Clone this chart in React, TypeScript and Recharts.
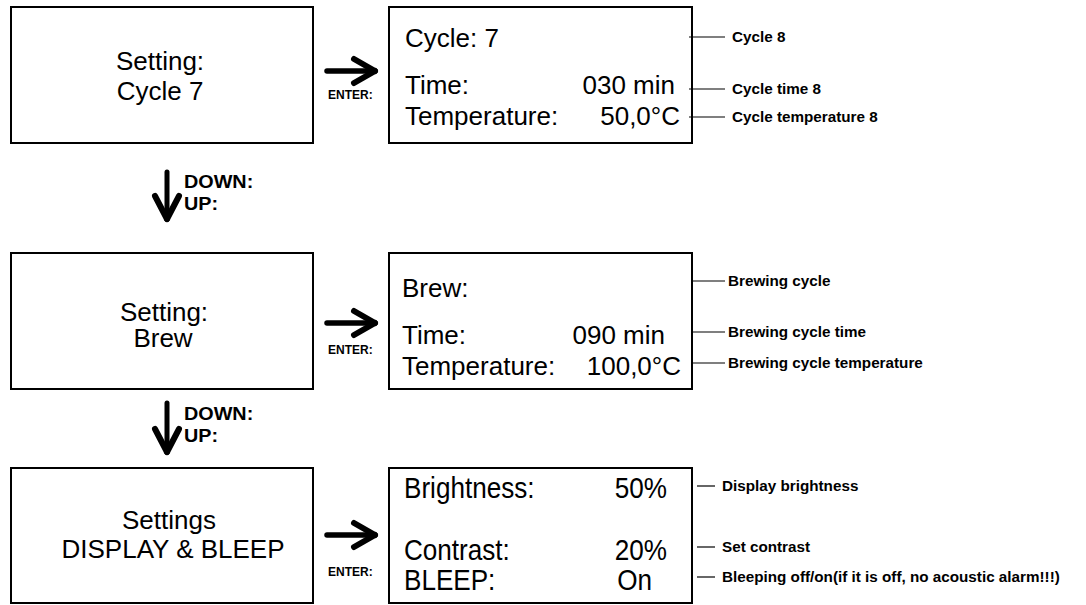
import { ScatterChart, Scatter, XAxis, YAxis, ReferenceArea, ReferenceLine } from "recharts";

// menu content
const menuTitles = [
  ["Setting:", "Cycle 7"],
  ["Setting:", "Brew"],
  ["Settings", "DISPLAY & BLEEP"],
];
const screenLabels = [
  ["Cycle: 7", "Time:", "Temperature:"],
  ["Brew:", "Time:", "Temperature:"],
  ["Brightness:", "Contrast:", "BLEEP:"],
];
const screenValues = [
  ["", "030 min", "50,0°C"],
  ["", "090 min", "100,0°C"],
  ["50%", "20%", "On"],
];
const notes = [
  ["Cycle 8", "Cycle time 8", "Cycle temperature 8"],
  ["Brewing cycle", "Brewing cycle time", "Brewing cycle temperature"],
  ["Display brightness", "Set contrast", "Bleeping off/on(if it is off, no acoustic alarm!!!)"],
];
const enterLabel = "ENTER:";
const navLabels = ["DOWN:", "UP:"];

// layout, in px of the 1086x605 frame
const W = 1086;
const H = 605;
const rowTop = [7, 253, 468];
const rowBottom = [143, 389, 603];
const leftBox = [11, 313];
const rightBox = [389, 692];
const titleX = [[160, 160], [164, 163], [169, 173]];
const titleY = [[70, 100], [321, 347], [529, 558]];
const labelX = [405, 402, 404];
const lineY = [[47, 94, 125], [297, 344, 375], [498, 560, 590]];
const valueX = [[0, 675, 680], [0, 665, 681], [667, 667, 652]];
const leaderX = [[689, 725], [692, 725], [697, 715]];
const leaderY = [[37, 89, 117], [281, 332, 363], [486, 547, 577]];
const noteX = [732, 728, 722];
const arrowY = [71, 323, 535];
const enterY = [99, 354, 576];
const downX = 167;
const downTop = [172, 403];
const downTip = [219, 452];
const navY = [[188, 210], [420, 442]];

type Kind = "title" | "label" | "value" | "narrow" | "narrowValue" | "note" | "nav" | "enter";

const styles: Record<Kind, { size: number; weight: number; anchor: string; sx: number }> = {
  title: { size: 26, weight: 400, anchor: "middle", sx: 1 },
  label: { size: 26, weight: 400, anchor: "start", sx: 1 },
  value: { size: 26, weight: 400, anchor: "end", sx: 1 },
  narrow: { size: 30, weight: 400, anchor: "start", sx: 0.87 },
  narrowValue: { size: 30, weight: 400, anchor: "end", sx: 0.87 },
  note: { size: 14, weight: 700, anchor: "start", sx: 1.09 },
  nav: { size: 18, weight: 700, anchor: "start", sx: 1.1 },
  enter: { size: 12, weight: 700, anchor: "start", sx: 1 },
};

const texts: { x: number; y: number; text: string; kind: Kind }[] = [];
menuTitles.forEach((lines, r) =>
  lines.forEach((t, i) => texts.push({ x: titleX[r][i], y: titleY[r][i], text: t, kind: "title" }))
);
screenLabels.forEach((lines, r) =>
  lines.forEach((t, i) =>
    texts.push({ x: labelX[r], y: lineY[r][i], text: t, kind: r === 2 ? "narrow" : "label" })
  )
);
screenValues.forEach((lines, r) =>
  lines.forEach((t, i) => {
    if (t) texts.push({ x: valueX[r][i], y: lineY[r][i], text: t, kind: r === 2 ? "narrowValue" : "value" });
  })
);
notes.forEach((lines, r) =>
  lines.forEach((t, i) => texts.push({ x: noteX[r], y: leaderY[r][i] + 5, text: t, kind: "note" }))
);
enterY.forEach((y) => texts.push({ x: 328, y, text: enterLabel, kind: "enter" }));
navY.forEach((ys) => ys.forEach((y, i) => texts.push({ x: 184, y, text: navLabels[i], kind: "nav" })));

const TextMark = (props: any) => {
  const { cx, cy, payload } = props;
  const s = styles[payload.kind as Kind];
  return (
    <text
      transform={`translate(${cx},${cy}) scale(${s.sx},1)`}
      x={0}
      y={0}
      textAnchor={s.anchor as any}
      fontFamily="'Liberation Sans', Arial, sans-serif"
      fontSize={s.size}
      fontWeight={s.weight}
      fill="#000"
    >
      {payload.text}
    </text>
  );
};

const seg = (x1: number, y1: number, x2: number, y2: number, w: number, key: string) => (
  <ReferenceLine
    key={key}
    segment={[{ x: x1, y: y1 }, { x: x2, y: y2 }]}
    stroke="#000"
    strokeWidth={w}
    strokeLinecap="round"
  />
);

export default function App() {
  const lines: any[] = [];
  rowTop.forEach((_, r) => {
    const y = arrowY[r];
    lines.push(seg(327, y, 373, y, 5.5, `as${r}`));
    lines.push(seg(354, y - 12, 375, y, 6, `au${r}`));
    lines.push(seg(354, y + 12, 375, y, 6, `ad${r}`));
    leaderY[r].forEach((ly, i) => {
      lines.push(
        <ReferenceLine
          key={`l${r}${i}`}
          segment={[{ x: leaderX[r][0], y: ly }, { x: leaderX[r][1], y: ly }]}
          stroke="#000"
          strokeWidth={1.2}
        />
      );
    });
  });
  downTop.forEach((top, i) => {
    const tip = downTip[i];
    lines.push(seg(downX, top, downX, tip - 3, 5, `ds${i}`));
    lines.push(seg(downX - 12, tip - 23, downX, tip, 6, `dl${i}`));
    lines.push(seg(downX + 12, tip - 23, downX, tip, 6, `dr${i}`));
  });

  return (
    <div style={{ position: "absolute", left: 0, top: 0, width: W, height: H, background: "#fff" }}>
      <ScatterChart width={W} height={H} margin={{ top: 0, right: 0, bottom: 0, left: 0 }}>
        <XAxis type="number" dataKey="x" domain={[0, W]} hide allowDataOverflow />
        <YAxis type="number" dataKey="y" domain={[0, H]} reversed hide allowDataOverflow />
        {rowTop.map((top, r) => (
          <ReferenceArea
            key={`lb${r}`}
            x1={leftBox[0]}
            x2={leftBox[1]}
            y1={top}
            y2={rowBottom[r]}
            fill="none"
            stroke="#000"
            strokeWidth={2}
          />
        ))}
        {rowTop.map((top, r) => (
          <ReferenceArea
            key={`rb${r}`}
            x1={rightBox[0]}
            x2={rightBox[1]}
            y1={top}
            y2={rowBottom[r]}
            fill="none"
            stroke="#000"
            strokeWidth={2}
          />
        ))}
        {lines}
        <Scatter data={texts} shape={TextMark} isAnimationActive={false} />
      </ScatterChart>
    </div>
  );
}
